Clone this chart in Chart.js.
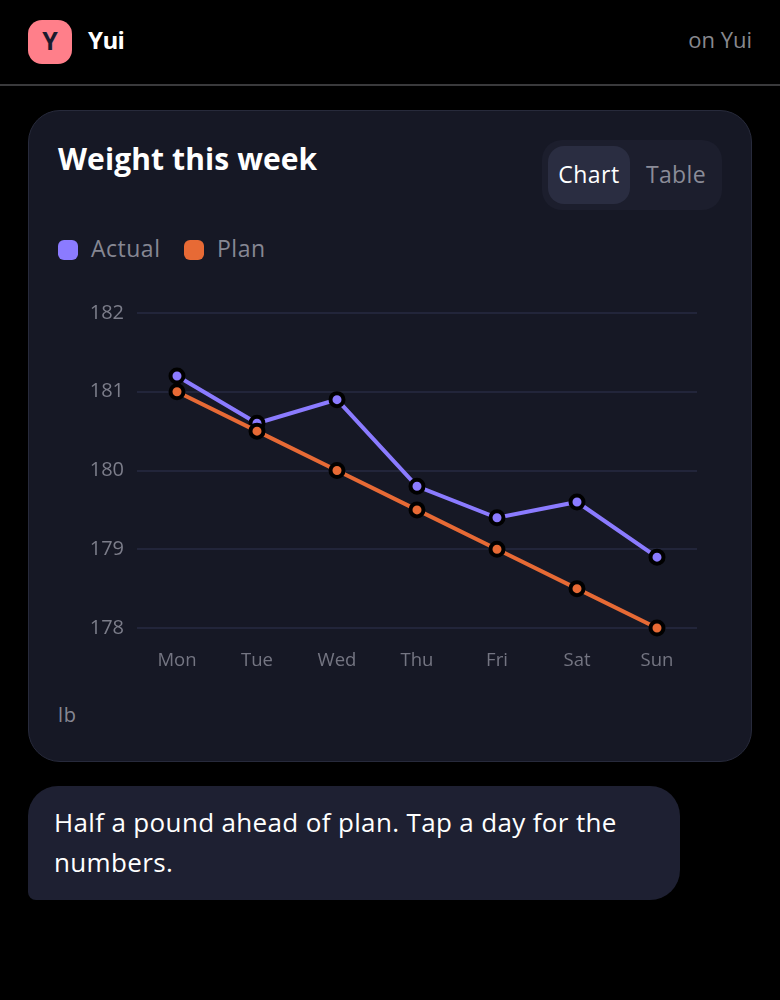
<!DOCTYPE html>
<html>
<head>
<meta charset="utf-8">
<script src="https://cdn.jsdelivr.net/npm/chart.js@4"></script>
<style>
  html, body { margin: 0; padding: 0; background: #000; }
  body { width: 780px; height: 1000px; position: relative; overflow: hidden; font-family: "Open Sans", sans-serif; }
  .abs { position: absolute; white-space: nowrap; }
  #avatar { left: 28px; top: 20px; width: 44px; height: 44px; border-radius: 14px; background: #ff7f8a; color: #1a1b2e; font: 700 25px/41px "Open Sans", sans-serif; text-align: center; }
  #name { left: 88px; top: 23px; color: #fff; font: 700 24px/34px "Open Sans", sans-serif; letter-spacing: -0.6px; }
  #on { right: 28px; top: 23px; color: #88888e; font: 400 22px/32px "Open Sans", sans-serif; }
  #rule { left: 0; top: 84px; width: 780px; height: 2px; background: #3a3a3c; }
  #card { left: 28px; top: 110px; width: 722px; height: 650px; background: #161825; border: 1px solid #272a3b; border-radius: 32px; }
  #title { left: 58px; top: 139px; color: #fff; font: 700 30px/40px "Open Sans", sans-serif; letter-spacing: 0.1px; }
  #toggle { left: 542px; top: 140px; width: 180px; height: 70px; border-radius: 20px; background: #1c1e2d; }
  #chartTab { left: 548px; top: 146px; width: 82px; height: 58px; border-radius: 16px; background: #2a2d41; color: #fff; font: 500 23px/56px "Open Sans", sans-serif; letter-spacing: 0.5px; text-align: center; }
  #tableTab { left: 630px; top: 146px; width: 92px; height: 58px; color: #8b8c98; font: 500 23px/56px "Open Sans", sans-serif; letter-spacing: 0.4px; text-align: center; }
  .swatch { top: 240px; width: 20px; height: 20px; border-radius: 6px; }
  .legend { top: 231px; color: #868793; font: 400 23px/34px "Open Sans", sans-serif; letter-spacing: 0.5px; }
  #unit { left: 58px; top: 702px; color: #868793; font: 400 20px/26px "Open Sans", sans-serif; letter-spacing: 0.6px; }
  #bubble { left: 28px; top: 786px; width: 652px; height: 114px; background: #1e2032; border-radius: 30px 30px 30px 8px; }
  #msg { left: 54px; top: 802px; width: 600px; white-space: normal; color: #fff; font: 400 26px/40px "Open Sans", sans-serif; letter-spacing: 0.35px; }
  #wrap { left: 58px; top: 290px; width: 664px; height: 400px; }
</style>
</head>
<body>
<div class="abs" id="avatar">Y</div>
<div class="abs" id="name">Yui</div>
<div class="abs" id="on">on Yui</div>
<div class="abs" id="rule"></div>
<div class="abs" id="card"></div>
<div class="abs" id="title">Weight this week</div>
<div class="abs" id="toggle"></div>
<div class="abs" id="chartTab">Chart</div>
<div class="abs" id="tableTab">Table</div>
<div class="abs swatch" style="left:58px;background:#8b7bff"></div>
<div class="abs legend" style="left:91px">Actual</div>
<div class="abs swatch" style="left:184px;background:#e76a35"></div>
<div class="abs legend" style="left:217px">Plan</div>
<div class="abs" id="wrap"><canvas id="weightChart" width="664" height="400"></canvas></div>
<div class="abs" id="unit">lb</div>
<div class="abs" id="bubble"></div>
<div class="abs" id="msg">Half a pound ahead of plan. Tap a day for the numbers.</div>

<script>
const days = ['Mon', 'Tue', 'Wed', 'Thu', 'Fri', 'Sat', 'Sun'];
const actual = [181.2, 180.6, 180.9, 179.8, 179.4, 179.6, 178.9];
const plan = [181, 180.5, 180, 179.5, 179, 178.5, 178];
const yTicks = [178, 179, 180, 181, 182];

const xFont = { family: '"Open Sans", sans-serif', size: 18.5 };
const yFont = { family: '"Open Sans", sans-serif', size: 20 };

function lineSet(label, data, color, order) {
  return {
    label, data, order,
    borderColor: color,
    backgroundColor: color,
    borderWidth: 4,
    tension: 0,
    pointRadius: 6.5,
    pointBorderWidth: 4,
    pointBorderColor: '#000',
    pointBackgroundColor: color,
    clip: false
  };
}

new Chart(document.getElementById('weightChart').getContext('2d'), {
  type: 'line',
  data: {
    labels: days,
    datasets: [
      lineSet('Actual', actual, '#8b7bff', 2),
      lineSet('Plan', plan, '#e76a35', 1)
    ]
  },
  options: {
    responsive: false,
    animation: false,
    layout: { padding: { top: 23, right: 25, left: 0, bottom: 0 } },
    plugins: { legend: { display: false }, tooltip: { enabled: false } },
    scales: {
      x: {
        offset: true,
        grid: { display: false },
        border: { display: false },
        ticks: { color: '#747582', font: xFont, padding: 14, maxRotation: 0 },
        afterFit(scale) { scale.height = 62; }
      },
      y: {
        min: 178,
        max: 182,
        afterBuildTicks(scale) { scale.ticks = yTicks.map(v => ({ value: v })); },
        grid: { color: '#22253a', lineWidth: 2, drawTicks: false },
        border: { display: false },
        ticks: { color: '#7c7d8a', font: yFont, padding: 13 },
        // stop the tick labels from pushing the plot top down
        afterFit(scale) { scale.width = 79; scale.paddingTop = 0; scale.paddingBottom = 0; }
      }
    }
  }
});
</script>
</body>
</html>
